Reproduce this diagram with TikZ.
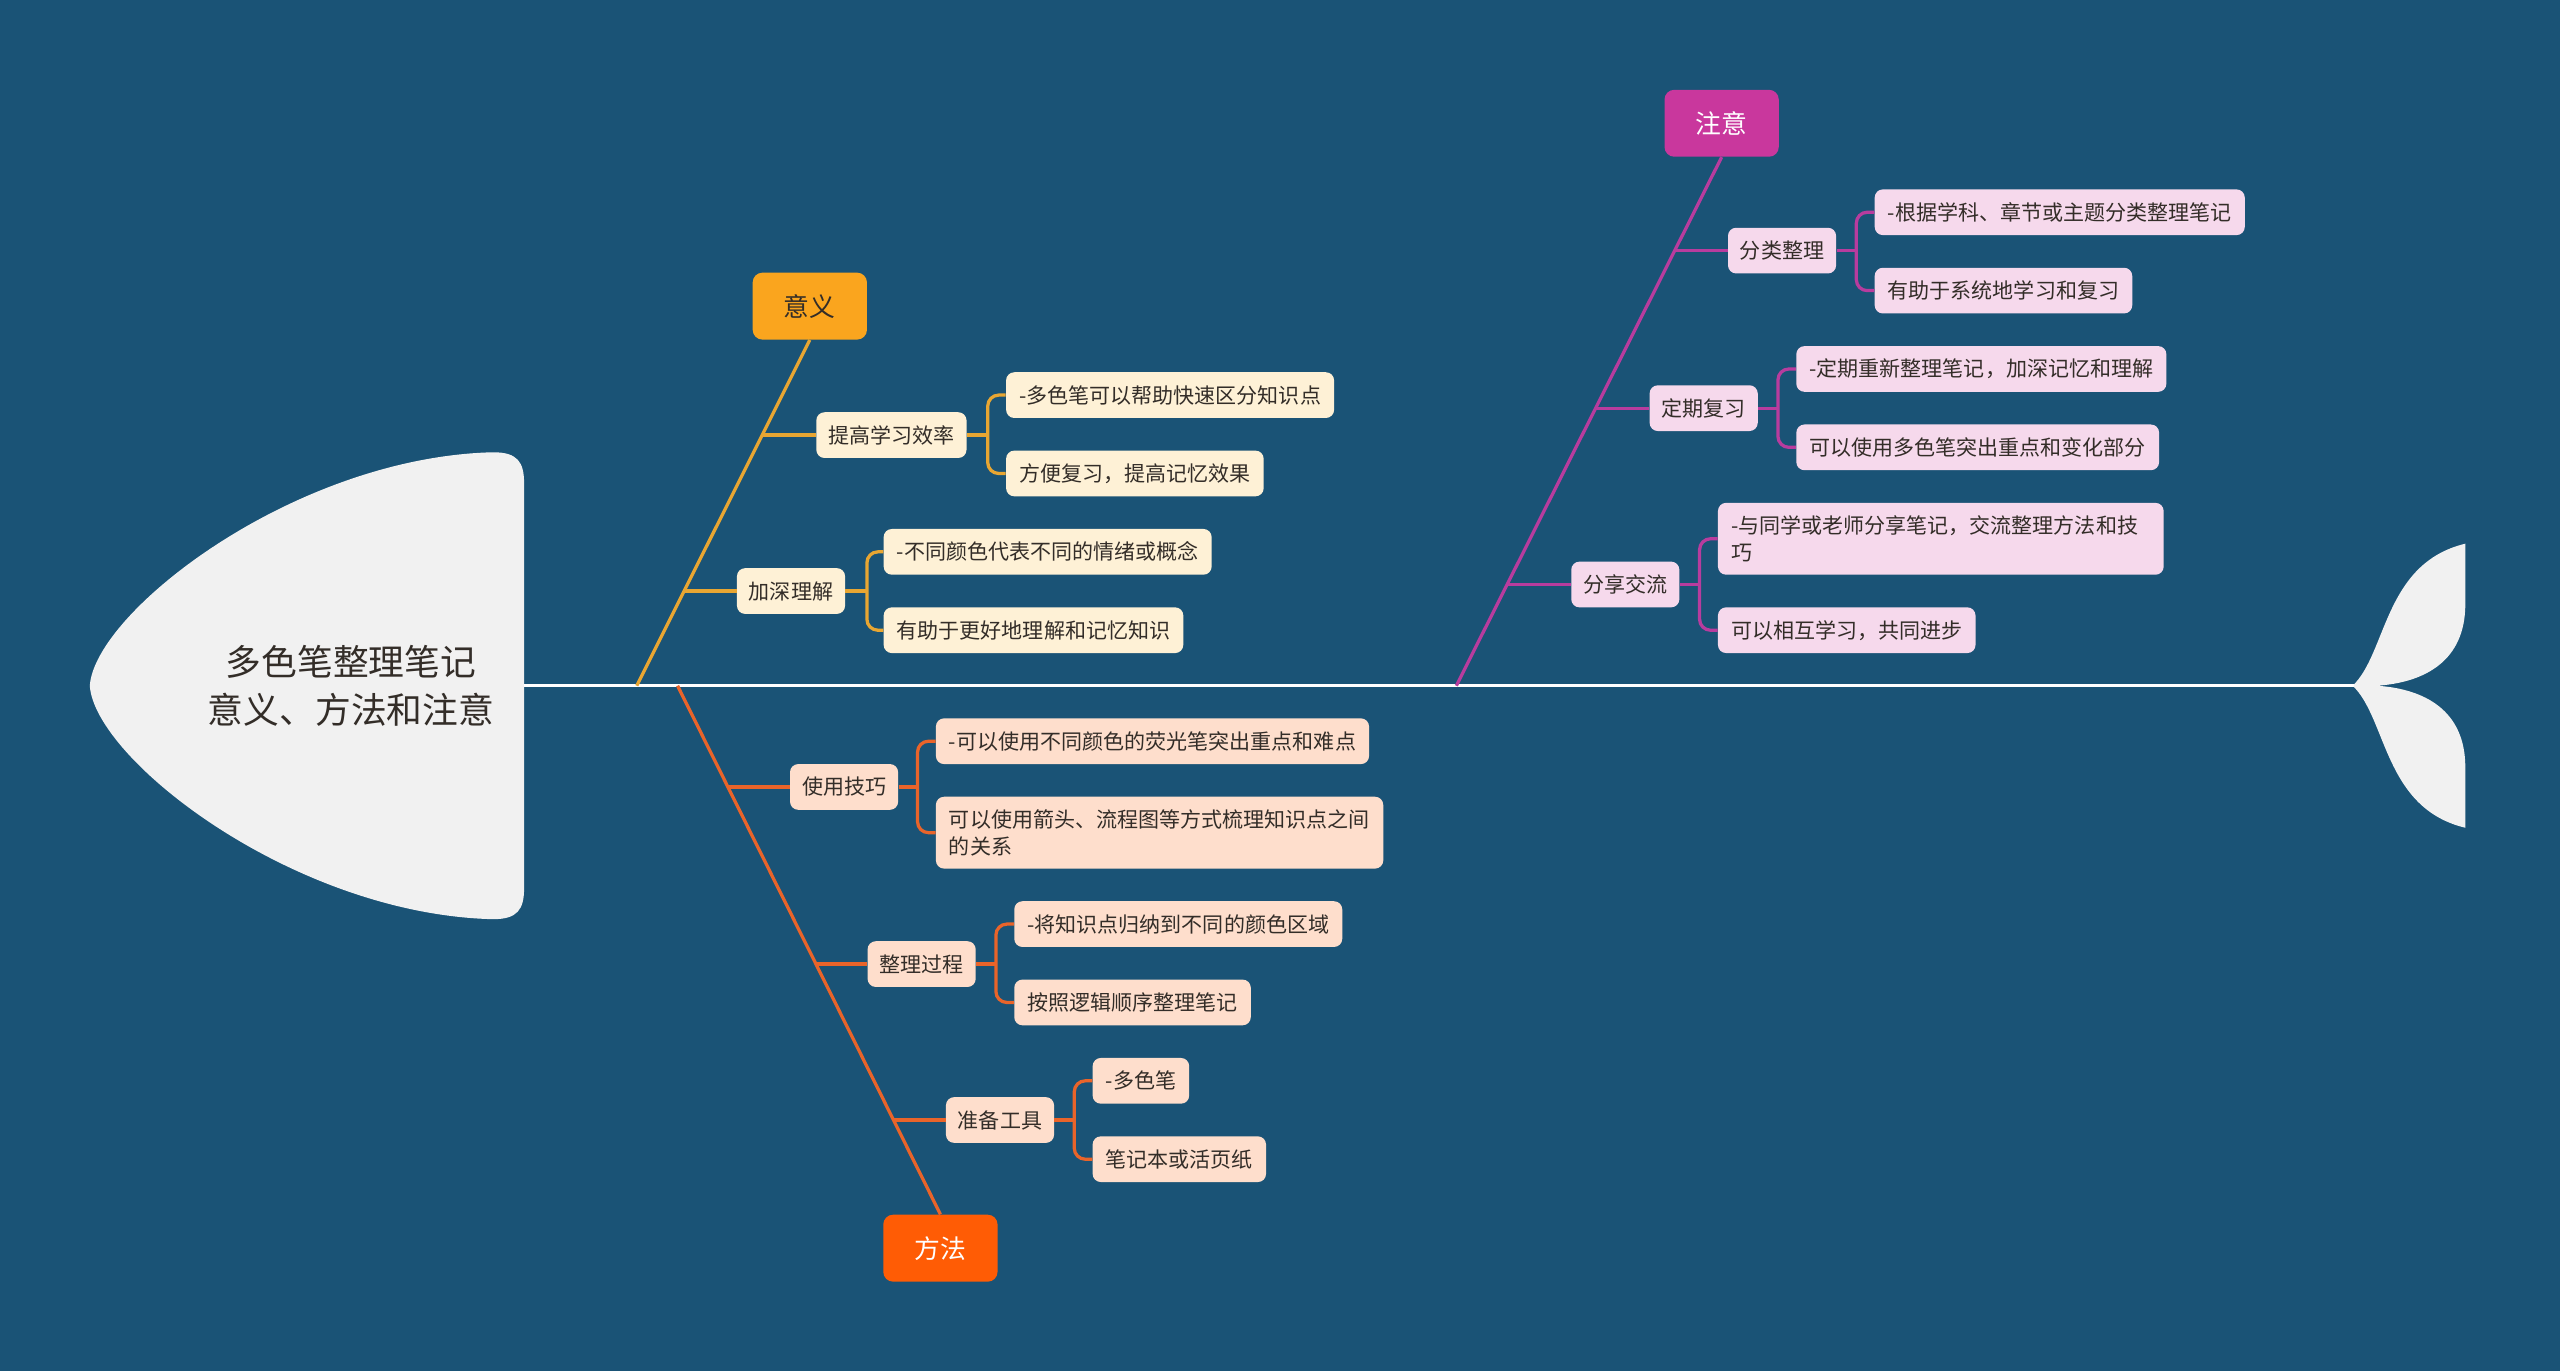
\documentclass[tikz,border=0pt]{standalone}
\usepackage{fontspec}
\newfontfamily\cjk{Noto Sans CJK SC}
\usetikzlibrary{calc}
\definecolor{bg}{RGB}{26,83,118}
\definecolor{headc}{RGB}{241,241,241}
\definecolor{txt}{RGB}{51,45,40}
\definecolor{mainA}{RGB}{250,165,30}
\definecolor{lnA}{RGB}{232,166,50}
\definecolor{lfA}{RGB}{254,241,214}
\definecolor{mainB}{RGB}{201,55,157}
\definecolor{lnB}{RGB}{184,60,158}
\definecolor{lfB}{RGB}{246,217,236}
\definecolor{mainC}{RGB}{255,92,5}
\definecolor{lnC}{RGB}{233,100,42}
\definecolor{lfC}{RGB}{254,222,204}
\begin{document}
\begin{tikzpicture}[x=0.03cm,y=-0.03cm,
  smallfont/.style={font=\cjk\fontsize{11}{14}\selectfont},
  leafbase/.style={smallfont, anchor=west, text=txt, inner xsep=0.24cm, inner ysep=0.08cm, minimum height=0.84cm, rounded corners=0.15cm},
  subbase/.style={smallfont, anchor=center, text=txt, inner xsep=0.22cm, inner ysep=0.08cm, minimum height=0.84cm, rounded corners=0.15cm},
  mainbase/.style={font=\cjk\fontsize{13.5}{16}\selectfont, minimum width=2.1cm, minimum height=1.23cm, rounded corners=0.18cm, inner sep=0pt},
  leafA/.style={leafbase, fill=lfA}, subA/.style={subbase, fill=lfA}, lineA/.style={draw=lnA, line width=1.7pt},
  leafB/.style={leafbase, fill=lfB}, subB/.style={subbase, fill=lfB}, lineB/.style={draw=lnB, line width=1.7pt},
  leafC/.style={leafbase, fill=lfC}, subC/.style={subbase, fill=lfC}, lineC/.style={draw=lnC, line width=1.7pt},
  bracket/.style={rounded corners=0.2cm},
  twoline/.style={text width=7.74cm, align=left, minimum height=1.32cm}
]
\fill[bg] (0,0) rectangle (1568,840);
\useasboundingbox (0,0) rectangle (1568,840);

% head
\fill[headc] (55,420) .. controls (58,375) and (180,280) .. (302,277) .. controls (317,277) and (321,283) .. (321,296)
  -- (321,544) .. controls (321,557) and (317,563) .. (302,563) .. controls (180,560) and (58,465) .. (55,420) -- cycle;
\node[font=\cjk\fontsize{18.7}{25}\selectfont, text=txt, align=center] (title) at (215,420) {多色笔整理笔记\\意义、方法和注意};

% tail
\fill[headc] (1441,420) .. controls (1462,400) and (1460,345) .. (1510,333) -- (1510,370)
  .. controls (1510,405) and (1485,418) .. (1456,420)
  .. controls (1485,422) and (1510,435) .. (1510,470) -- (1510,507)
  .. controls (1460,495) and (1462,440) .. (1441,420) -- cycle;

% spine
\coordinate (hd) at (321,420);
\coordinate (tl) at (1442,420);
\draw[white, line width=1.7pt] (hd) -- (tl);

% ===== 意义 =====
\node[mainbase, fill=mainA, text=txt] (m1) at (496,187.5) {意义};
\coordinate (s1) at (390,420);
\draw[lineA] (m1.south) -- (s1);
\coordinate (j11) at (467,266.5);
\coordinate (j12) at (419,362);
\node[subA] (p11) at (546,266.5) {提高学习效率};
\node[subA] (p12) at (484.5,362) {加深理解};
\draw[lineA] (j11) -- (p11.west);
\draw[lineA] (j12) -- (p12.west);
\node[leafA] (l111) at (616,242) {-多色笔可以帮助快速区分知识点};
\node[leafA] (l112) at (616,290) {方便复习，提高记忆效果};
\coordinate (b11) at (605,266.5);
\draw[lineA] (p11.east) -- (b11);
\draw[lineA, bracket] (l111.west) -| (b11) |- (l112.west);
\node[leafA] (l121) at (541,338) {-不同颜色代表不同的情绪或概念};
\node[leafA] (l122) at (541,386) {有助于更好地理解和记忆知识};
\coordinate (b12) at (531,362);
\draw[lineA] (p12.east) -- (b12);
\draw[lineA, bracket] (l121.west) -| (b12) |- (l122.west);

% ===== 注意 =====
\node[mainbase, fill=mainB, text=white] (m2) at (1054.5,75.5) {注意};
\coordinate (s2) at (892,420);
\draw[lineB] (m2.south) -- (s2);
\coordinate (j21) at (1025.5,153.5);
\coordinate (j22) at (977,250);
\coordinate (j23) at (923,358);
\node[subB] (p21) at (1091.5,153.5) {分类整理};
\node[subB] (p22) at (1043.5,250) {定期复习};
\node[subB] (p23) at (995.5,358) {分享交流};
\draw[lineB] (j21) -- (p21.west);
\draw[lineB] (j22) -- (p22.west);
\draw[lineB] (j23) -- (p23.west);
\node[leafB] (l211) at (1148,130) {-根据学科、章节或主题分类整理笔记};
\node[leafB] (l212) at (1148,178) {有助于系统地学习和复习};
\coordinate (b21) at (1137,153.5);
\draw[lineB] (p21.east) -- (b21);
\draw[lineB, bracket] (l211.west) -| (b21) |- (l212.west);
\node[leafB] (l221) at (1100,226) {-定期重新整理笔记，加深记忆和理解};
\node[leafB] (l222) at (1100,274) {可以使用多色笔突出重点和变化部分};
\coordinate (b22) at (1089,250);
\draw[lineB] (p22.east) -- (b22);
\draw[lineB, bracket] (l221.west) -| (b22) |- (l222.west);
\node[leafB, twoline, text width=7.71cm] (l231) at (1052,330) {-与同学或老师分享笔记，交流整理方法和技\\巧};
\node[leafB] (l232) at (1052,386) {可以相互学习，共同进步};
\coordinate (b23) at (1041,358);
\draw[lineB] (p23.east) -- (b23);
\draw[lineB, bracket] (l231.west) -| (b23) |- (l232.west);

% ===== 方法 =====
\node[mainbase, fill=mainC, text=white] (m3) at (576,764.5) {方法};
\coordinate (s3) at (415,420);
\draw[lineC] (s3) -- (m3.north);
\coordinate (j31) at (446,482);
\coordinate (j32) at (499.5,590.5);
\coordinate (j33) at (547,686);
\node[subC] (p31) at (517,482) {使用技巧};
\node[subC] (p32) at (564.5,590.5) {整理过程};
\node[subC] (p33) at (612.5,686) {准备工具};
\draw[lineC] (j31) -- (p31.west);
\draw[lineC] (j32) -- (p32.west);
\draw[lineC] (j33) -- (p33.west);
\node[leafC] (l311) at (573,454) {-可以使用不同颜色的荧光笔突出重点和难点};
\node[leafC, twoline] (l312) at (573,510) {可以使用箭头、流程图等方式梳理知识点之间\\的关系};
\coordinate (b31) at (562,482);
\draw[lineC] (p31.east) -- (b31);
\draw[lineC, bracket] (l311.west) -| (b31) |- (l312.west);
\node[leafC] (l321) at (621,566) {-将知识点归纳到不同的颜色区域};
\node[leafC] (l322) at (621,614) {按照逻辑顺序整理笔记};
\coordinate (b32) at (610,590.5);
\draw[lineC] (p32.east) -- (b32);
\draw[lineC, bracket] (l321.west) -| (b32) |- (l322.west);
\node[leafC] (l331) at (669,662) {-多色笔};
\node[leafC] (l332) at (669,710) {笔记本或活页纸};
\coordinate (b33) at (658,686);
\draw[lineC] (p33.east) -- (b33);
\draw[lineC, bracket] (l331.west) -| (b33) |- (l332.west);
\end{tikzpicture}
\end{document}
